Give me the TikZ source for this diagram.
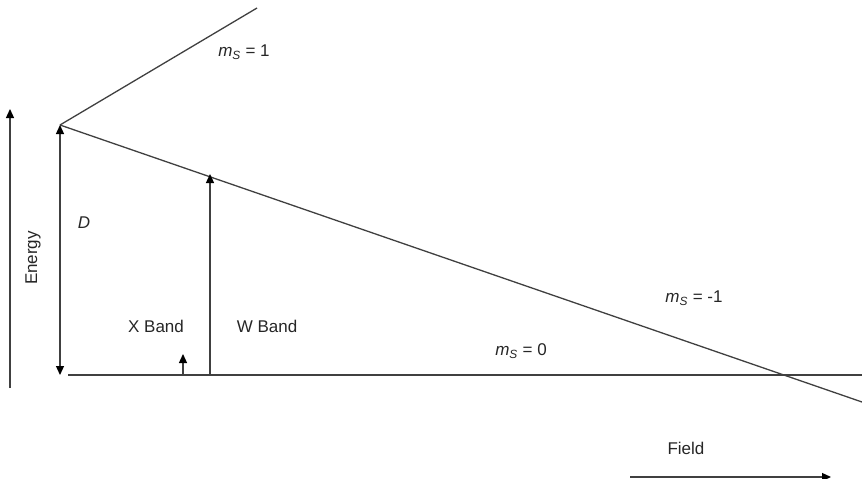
\documentclass[tikz,border=0pt]{standalone}
\usepackage{fontspec}
\setmainfont{Liberation Sans}
\usetikzlibrary{arrows.meta}
\begin{document}
\begin{tikzpicture}[x=1pt,y=-1pt,
  ln/.style={draw=black!75,line width=1.3pt},
  arr/.style={ln,-{Triangle[length=9pt,width=8pt,color=black]}},
  darr/.style={ln,{Triangle[length=9pt,width=8pt,color=black]}-{Triangle[length=9pt,width=8pt,color=black]}},
  lbl/.style={font=\fontsize{17pt}{20pt}\selectfont,text=black!85,inner sep=0pt}]
\useasboundingbox (0,0) rectangle (862,479);
% key points
\coordinate (v) at (60,125);
\coordinate (up) at (257,8);
\coordinate (dn) at (862,402);
\coordinate (h0) at (68,375);
\coordinate (h1) at (862,375);
\coordinate (dbot) at (60,375);
\coordinate (wbot) at (210,375);
\coordinate (wtop) at (210,174);
\coordinate (xbot) at (183,375);
\coordinate (xtop) at (183,354);
\coordinate (e0) at (10,388);
\coordinate (e1) at (10,109);
\coordinate (f0) at (630,477);
\coordinate (f1) at (831,477);
% levels
\draw[ln] (v) -- (up);
\draw[ln] (v) -- (dn);
\draw[ln] (h0) -- (h1);
% arrows
\draw[darr] (v) -- (dbot);
\draw[arr] (wbot) -- (wtop);
\draw[arr] (xbot) -- (xtop);
\draw[arr] (e0) -- (e1);
\draw[arr] (f0) -- (f1);
% labels
\node[lbl] (ms1) at (244,52) {\textit{m}\textsubscript{\textit{S}} = 1};
\node[lbl] (msm1) at (694,298) {\textit{m}\textsubscript{\textit{S}} = -1};
\node[lbl] (ms0) at (521,351) {\textit{m}\textsubscript{\textit{S}} = 0};
\node[lbl] (D) at (84,223) {\textit{D}};
\node[lbl,rotate=90] (en) at (33,258) {Energy};
\node[lbl] (xb) at (156,326) {X Band};
\node[lbl] (wb) at (267,326) {W Band};
\node[lbl] (fd) at (686,448) {Field};
\end{tikzpicture}
\end{document}
